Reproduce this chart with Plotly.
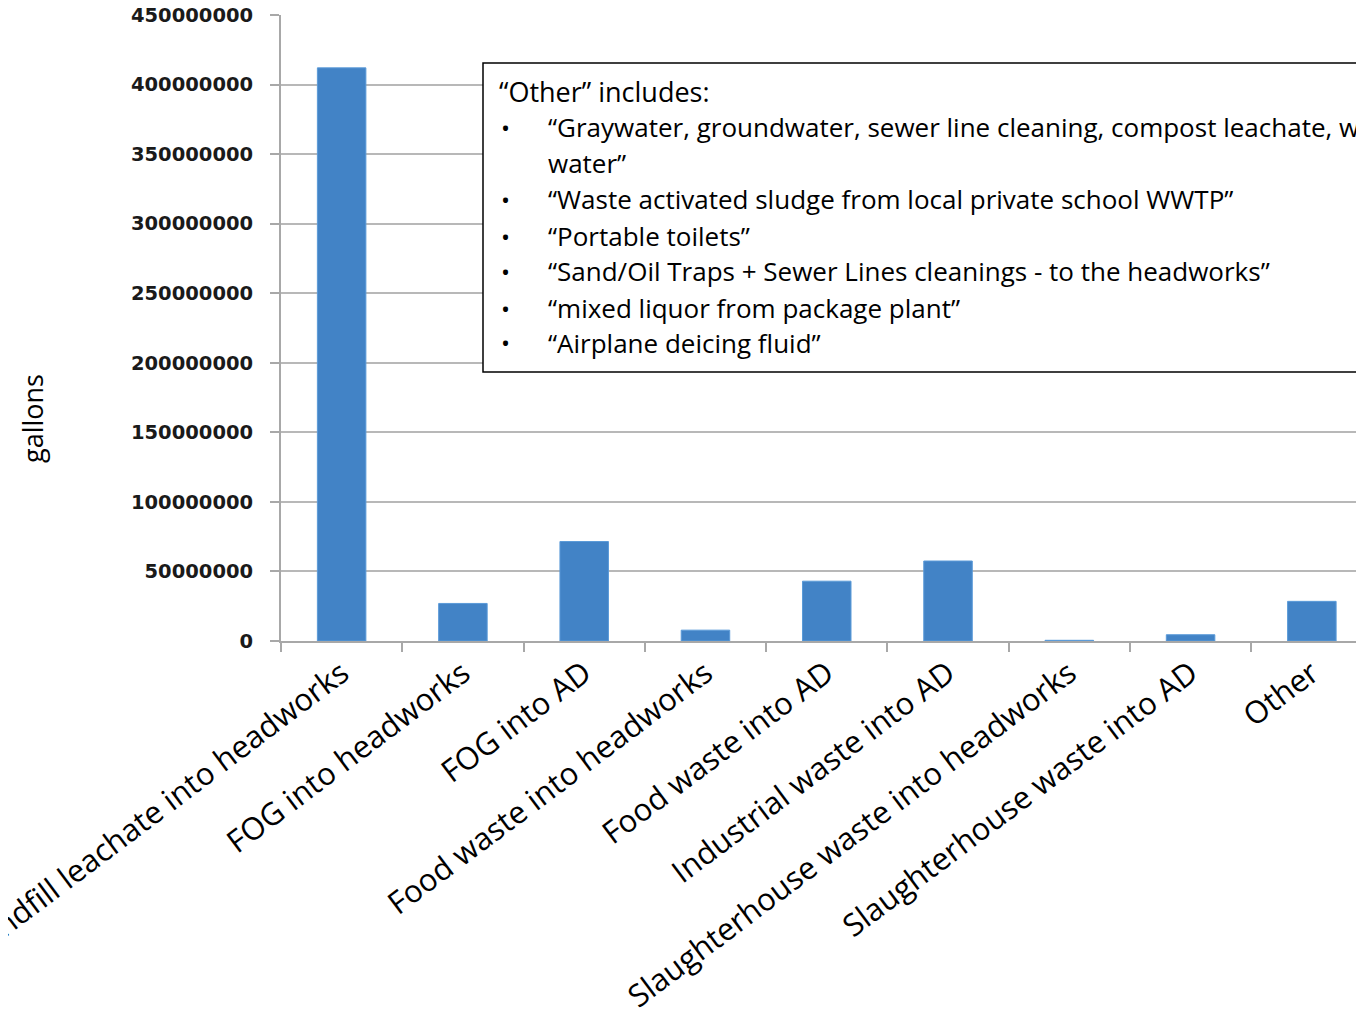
import plotly.graph_objects as go

categories = [
    "Landfill leachate into headworks",
    "FOG into headworks",
    "FOG into AD",
    "Food waste into headworks",
    "Food waste into AD",
    "Industrial waste into AD",
    "Slaughterhouse waste into headworks",
    "Slaughterhouse waste into AD",
    "Other",
]
gallons = [412000000, 27000000, 71500000, 7800000, 43000000, 57500000, 500000, 4500000, 28500000]

y_ticks = [0, 50000000, 100000000, 150000000, 200000000, 250000000, 300000000, 350000000, 400000000, 450000000]

box_title = "“Other” includes:"
box_lines = [
    "“Graywater, groundwater, sewer line cleaning, compost leachate, wash",
    "water”",
    "“Waste activated sludge from local private school WWTP”",
    "“Portable toilets”",
    "“Sand/Oil Traps + Sewer Lines cleanings - to the headworks”",
    "“mixed liquor from package plant”",
    "“Airplane deicing fluid”",
]
box_bullets = [True, False, True, True, True, True, True]

# page body has an 8px margin; figure sized so its plot area lands on the reference pixels
OFF = 8
W, H = 1364 - OFF, 1015 - OFF
L, T = 281 - OFF, 15 - OFF
B = H - (641 - OFF)

fig = go.Figure()
fig.add_trace(go.Bar(
    x=categories, y=gallons,
    marker=dict(color="#4283c6", line=dict(color="#5a9ad8", width=1)),
    width=0.4,
))

fig.update_layout(
    width=W, height=H,
    margin=dict(l=L, r=0, t=T, b=B, autoexpand=False),
    paper_bgcolor="white", plot_bgcolor="white",
    showlegend=False,
    font=dict(family="Open Sans", color="black"),
)
fig.update_xaxes(
    type="category",
    automargin=False,
    range=[-0.5, 8.43],
    showgrid=False,
    showline=True, linecolor="#a8a8a8", linewidth=2,
    ticks="outside", tickson="boundaries", ticklen=9, tickcolor="#a8a8a8", tickwidth=2,
    tickangle=-37,
    ticklabeloverflow="allow",
    tickfont=dict(family="Open Sans", size=31, color="black"),
)
fig.update_yaxes(
    automargin=False,
    range=[0, 450000000],
    tickvals=y_ticks,
    ticktext=[str(v) for v in y_ticks],
    showgrid=True, gridcolor="#b8b8b8", gridwidth=1.5,
    showline=True, linecolor="#a8a8a8", linewidth=2,
    ticks="outside", ticklen=9, tickcolor="#a8a8a8", tickwidth=2,
    ticklabelstandoff=13,
    ticklabeloverflow="allow",
    tickfont=dict(family="DejaVu Sans", size=19.5, color="#1a1a1a", weight="bold"),
    zeroline=False,
)

def px_x(x):
    return (x - OFF - L) / (W - L)

def px_y(y):
    return (H - B - (y - OFF)) / (H - B - T)

# y-axis title
fig.add_annotation(
    text="gallons", textangle=-90, showarrow=False,
    xref="paper", yref="paper",
    x=px_x(33), y=px_y(419),
    xanchor="center", yanchor="middle",
    font=dict(family="Open Sans", size=27, color="black"),
)

# "Other" info box
fig.add_shape(
    type="rect", xref="paper", yref="paper",
    x0=px_x(483), x1=px_x(1400), y0=px_y(372), y1=px_y(63),
    line=dict(color="black", width=1.5), fillcolor="white", layer="above",
)
fig.add_annotation(
    text=box_title, showarrow=False, xref="paper", yref="paper",
    x=px_x(497), y=px_y(92), xanchor="left", yanchor="middle",
    font=dict(family="Open Sans", size=27, color="black"),
)
line_y = [127, 163, 199, 236, 271, 308, 343]
for txt, bul, yy in zip(box_lines, box_bullets, line_y):
    if bul:
        fig.add_annotation(
            text="•", showarrow=False, xref="paper", yref="paper",
            x=px_x(499), y=px_y(yy), xanchor="left", yanchor="middle",
            font=dict(family="Open Sans", size=24, color="black"),
        )
    fig.add_annotation(
        text=txt, showarrow=False, xref="paper", yref="paper",
        x=px_x(546), y=px_y(yy), xanchor="left", yanchor="middle",
        font=dict(family="Open Sans", size=26, color="black"),
    )

fig.write_html("out.html")
